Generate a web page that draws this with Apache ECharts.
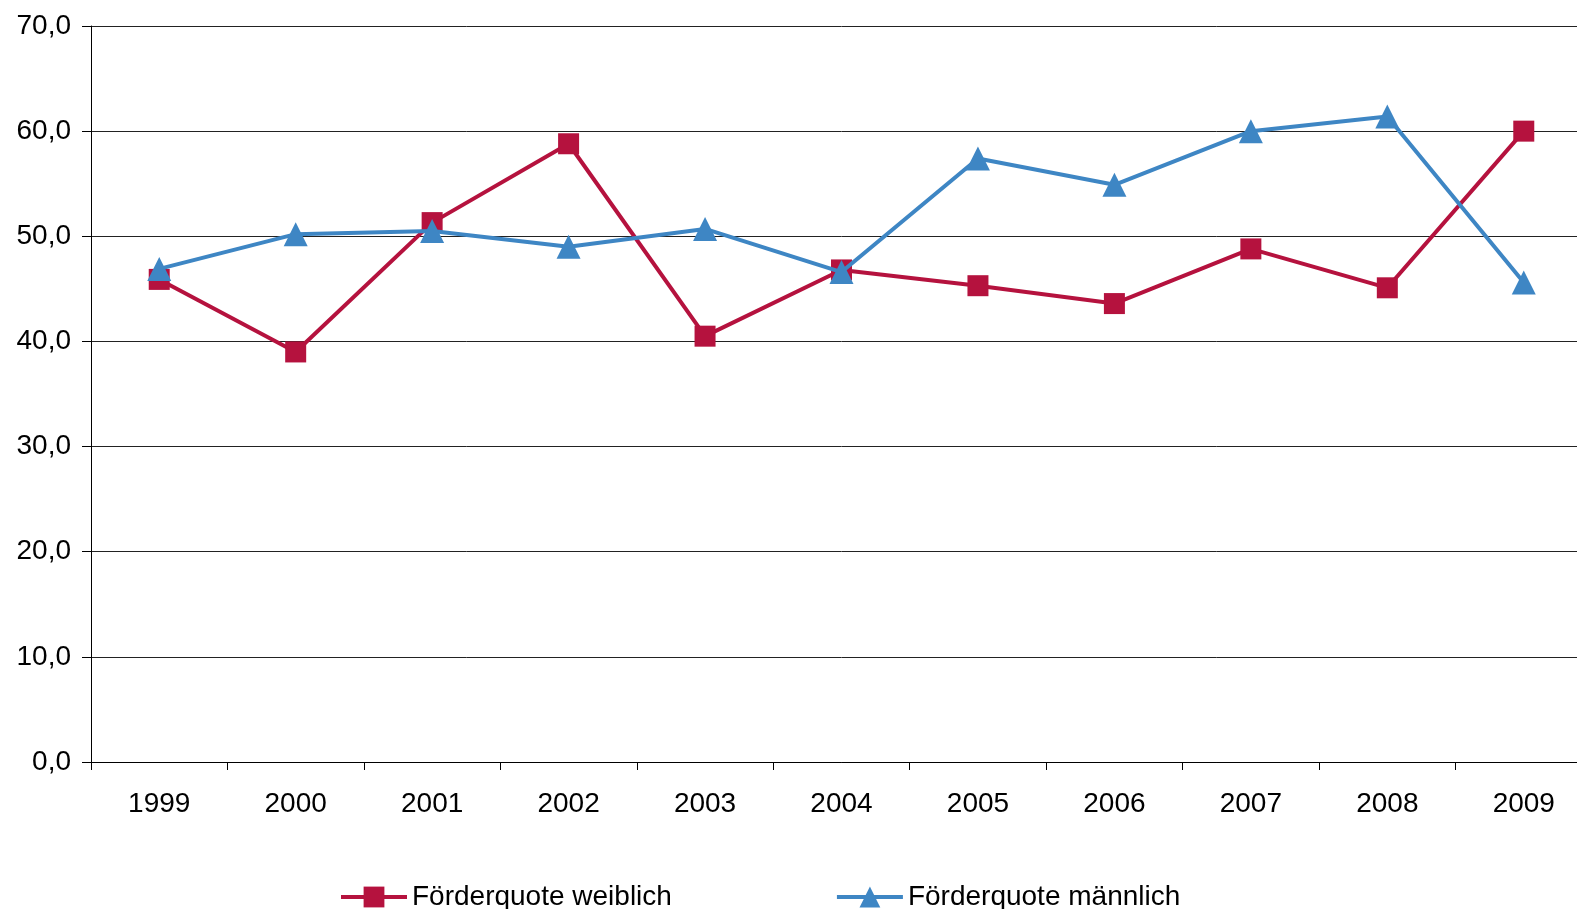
<!DOCTYPE html>
<html>
<head>
<meta charset="utf-8">
<script src="https://cdn.jsdelivr.net/npm/echarts@6/dist/echarts.min.js"></script>
<style>
html,body{margin:0;padding:0;background:#fff;overflow:hidden;}
#wrap{width:1577px;height:909px;overflow:hidden;}
#chart{width:1600px;height:909px;}
</style>
</head>
<body>
<div id="wrap"><div id="chart"></div></div>
<script>
const years = ['1999','2000','2001','2002','2003','2004','2005','2006','2007','2008','2009'];
const weiblich = [45.9, 39.0, 51.3, 58.8, 40.5, 46.8, 45.3, 43.6, 48.8, 45.1, 60.0];
const maennlich = [46.9, 50.2, 50.5, 49.0, 50.7, 46.6, 57.4, 54.9, 60.0, 61.4, 45.6];
const seriesNames = ['Förderquote weiblich', 'Förderquote männlich'];
const yTicks = {min: 0, max: 70, interval: 10};

const RED = '#B5123E';
const BLUE = '#3E86C4';
const FONT = 'Liberation Sans, Arial, sans-serif';

const chart = echarts.init(document.getElementById('chart'));
chart.setOption({
  animation: false,
  backgroundColor: '#fff',
  grid: {left: 91, top: 26, width: 1501, height: 736, containLabel: false},
  legend: {
    data: seriesNames,
    top: 878,
    left: 334,
    itemWidth: 66,
    itemHeight: 26,
    itemGap: 163,
    lineStyle: {width: 4},
    textStyle: {fontFamily: FONT, fontSize: 28, color: '#000'}
  },
  xAxis: {
    type: 'category',
    data: years,
    boundaryGap: true,
    axisLine: {lineStyle: {color: '#000', width: 1}},
    axisTick: {show: true, length: 8, lineStyle: {color: '#000'}},
    axisLabel: {fontFamily: FONT, fontSize: 28, color: '#000', margin: 28},
    splitLine: {show: false}
  },
  yAxis: {
    type: 'value',
    min: yTicks.min, max: yTicks.max, interval: yTicks.interval,
    axisLine: {show: true, lineStyle: {color: '#000', width: 1}},
    axisTick: {show: true, length: 9, lineStyle: {color: '#000'}},
    axisLabel: {fontFamily: FONT, fontSize: 28, color: '#000', margin: 20,
      formatter: v => v.toFixed(1).replace('.', ',')},
    splitLine: {show: true, lineStyle: {color: '#222', width: 1}}
  },
  series: [
    {
      name: seriesNames[0], type: 'line', data: weiblich,
      symbol: 'rect', symbolSize: 21,
      lineStyle: {color: RED, width: 4},
      itemStyle: {color: RED},
      z: 2
    },
    {
      name: seriesNames[1], type: 'line', data: maennlich,
      symbol: 'triangle', symbolSize: 24,
      lineStyle: {color: BLUE, width: 4},
      itemStyle: {color: BLUE},
      z: 3
    }
  ]
});
</script>
</body>
</html>
